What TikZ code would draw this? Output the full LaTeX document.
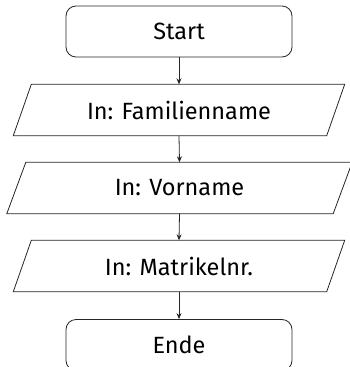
\documentclass[tikz,border=0pt]{standalone}
\usepackage{fontspec}
\setmainfont{Fira Sans}
\usetikzlibrary{calc,arrows.meta}
\tikzset{
  term/.style={draw=black!85, line width=0.8pt, rounded corners=10pt, minimum width=226pt, minimum height=51pt, inner sep=0pt, font=\fontsize{23.5}{28}\selectfont},
  iotext/.style={inner sep=0pt, minimum height=51pt, font=\fontsize{23.5}{28}\selectfont},
  ioshape/.style={draw=black!85, line width=0.8pt, line join=miter},
  flow/.style={draw=black!85, line width=0.8pt, -{Stealth[length=6pt,width=5pt]}}
}
\begin{document}
\begin{tikzpicture}[x=1pt,y=-1pt]
\useasboundingbox (0,0) rectangle (349,367);
\node[term] (start) at (179,31.5) {Start};
\node[iotext, minimum width=313pt] (p1) at (179,110) {In: Familienname};
\node[iotext, minimum width=326pt] (p2) at (179.5,188) {In: Vorname};
\node[iotext, minimum width=313pt] (p3) at (179,266) {In: Matrikelnr.};
\node[term] (ende) at (179,345) {Ende};
\draw[ioshape] ($(p1.north west)+(9,0)$) -- ($(p1.north east)+(9,0)$) -- ($(p1.south east)+(-9,0)$) -- ($(p1.south west)+(-9,0)$) -- cycle;
\draw[ioshape] ($(p2.north west)+(9.5,0)$) -- ($(p2.north east)+(9.5,0)$) -- ($(p2.south east)+(-9.5,0)$) -- ($(p2.south west)+(-9.5,0)$) -- cycle;
\draw[ioshape] ($(p3.north west)+(9,0)$) -- ($(p3.north east)+(9,0)$) -- ($(p3.south east)+(-9,0)$) -- ($(p3.south west)+(-9,0)$) -- cycle;
\draw[flow] (start.south) -- (p1.north);
\draw[flow] (p1.south) -- (p2.north);
\draw[flow] (p2.south) -- (p3.north);
\draw[flow] (p3.south) -- (ende.north);
\end{tikzpicture}
\end{document}
